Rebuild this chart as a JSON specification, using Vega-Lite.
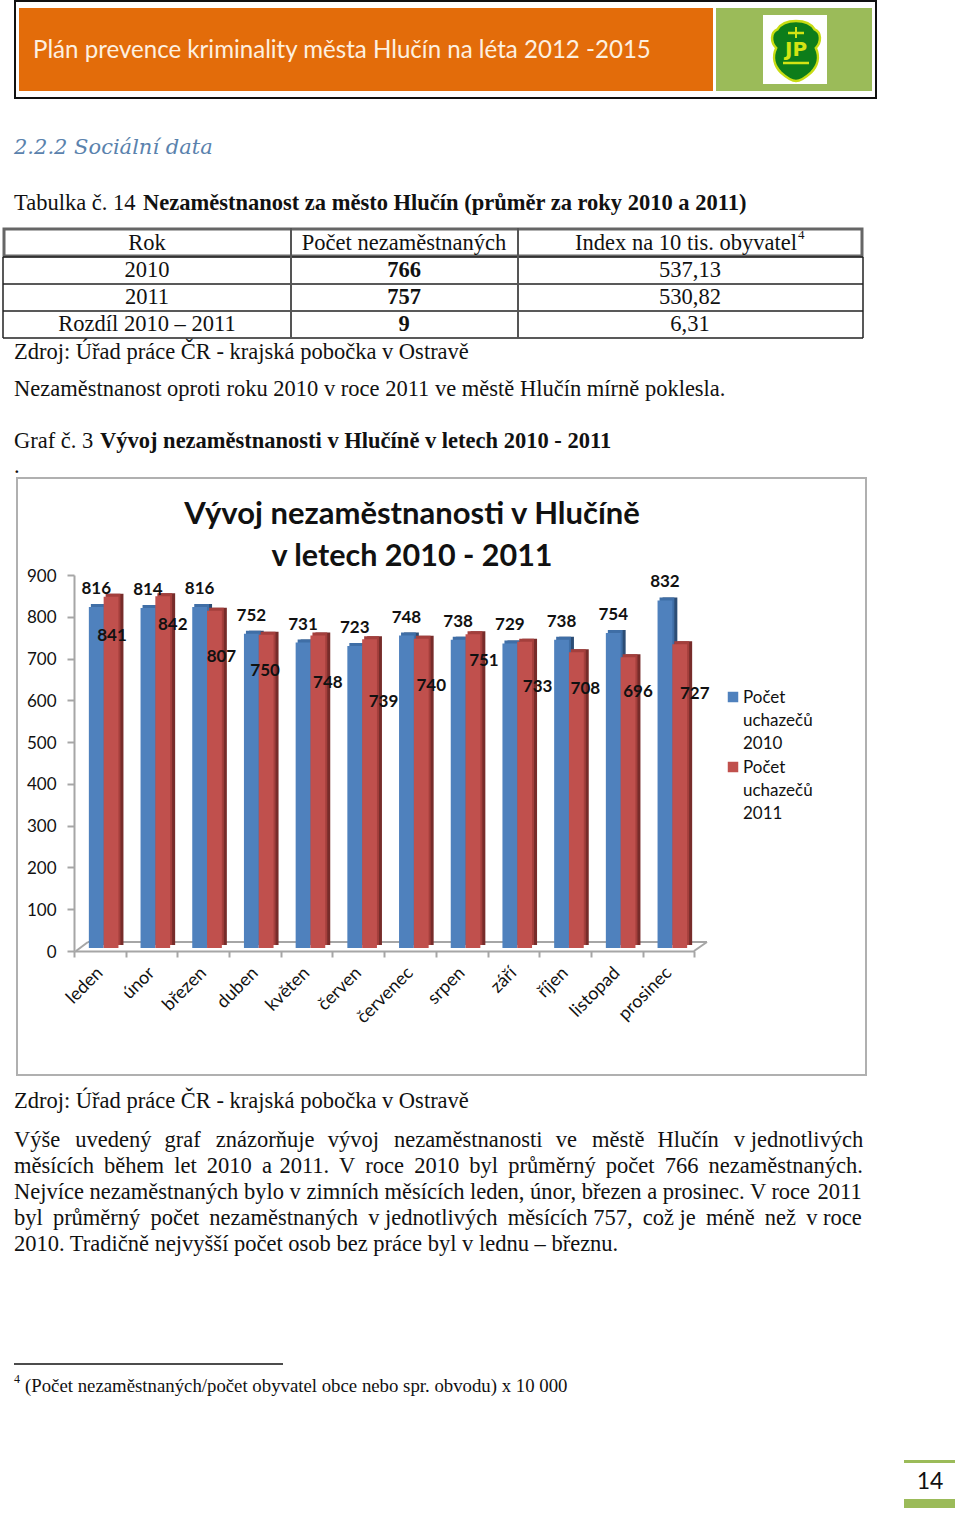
{"$schema":"https://vega.github.io/schema/vega-lite/v6.json","width":960,"height":1513,"padding":0,"autosize":{"type":"none"},"background":"white","config":{"view":{"stroke":null},"axis":{"grid":false},"text":{"font":"Liberation Serif","fontSize":22.5,"color":"#111","baseline":"middle","align":"left"}},
"datasets":{"bars":[
{"month":"leden","series":"Počet uchazečů 2010","value":816},{"month":"únor","series":"Počet uchazečů 2010","value":814},{"month":"březen","series":"Počet uchazečů 2010","value":816},{"month":"duben","series":"Počet uchazečů 2010","value":752},{"month":"květen","series":"Počet uchazečů 2010","value":731},{"month":"červen","series":"Počet uchazečů 2010","value":723},{"month":"červenec","series":"Počet uchazečů 2010","value":748},{"month":"srpen","series":"Počet uchazečů 2010","value":738},{"month":"září","series":"Počet uchazečů 2010","value":729},{"month":"říjen","series":"Počet uchazečů 2010","value":738},{"month":"listopad","series":"Počet uchazečů 2010","value":754},{"month":"prosinec","series":"Počet uchazečů 2010","value":832},
{"month":"leden","series":"Počet uchazečů 2011","value":841},{"month":"únor","series":"Počet uchazečů 2011","value":842},{"month":"březen","series":"Počet uchazečů 2011","value":807},{"month":"duben","series":"Počet uchazečů 2011","value":750},{"month":"květen","series":"Počet uchazečů 2011","value":748},{"month":"červen","series":"Počet uchazečů 2011","value":739},{"month":"červenec","series":"Počet uchazečů 2011","value":740},{"month":"srpen","series":"Počet uchazečů 2011","value":751},{"month":"září","series":"Počet uchazečů 2011","value":733},{"month":"říjen","series":"Počet uchazečů 2011","value":708},{"month":"listopad","series":"Počet uchazečů 2011","value":696},{"month":"prosinec","series":"Počet uchazečů 2011","value":727}],
"legendSymbols":[{"series":"Počet uchazečů 2010"},{"series":"Počet uchazečů 2011"}],
"legendLines":[{"line":"a","t":"Počet"},{"line":"b","t":"uchazečů"},{"line":"c","t":"2010"},{"line":"d","t":"Počet"},{"line":"e","t":"uchazečů"},{"line":"f","t":"2011"}],
"table":[{"row":"h","a":"Rok","b":"Počet nezaměstnaných","c":"Index na 10 tis. obyvatel"},{"row":"r1","a":"2010","b":"766","c":"537,13"},{"row":"r2","a":"2011","b":"757","c":"530,82"},{"row":"r3","a":"Rozdíl 2010 – 2011","b":"9","c":"6,31"}],
"body":[{"line":"l1","t":"Výše\u00a0\u200a\u200a uvedený\u00a0\u200a graf\u00a0\u200a\u200a znázorňuje\u00a0\u200a vývoj\u00a0\u200a\u200a nezaměstnanosti\u00a0\u200a ve\u00a0\u200a\u200a městě\u00a0\u200a Hlučín\u00a0\u200a\u200a v jednotlivých"},{"line":"l2","t":"měsících\u2009 během\u2009 let\u2009 2010\u2009 a\u200a 2011.\u2009 V\u2009 roce\u2009 2010\u2009 byl\u2009 průměrný\u2009 počet\u2009 766\u2009 nezaměstnaných."},{"line":"l3","t":"Nejvíce nezaměstnaných bylo v zimních měsících leden, únor, březen a prosinec. V roce\u200a 2011"},{"line":"l4","t":"byl\u2009 průměrný\u2009 počet\u2009 nezaměstnaných\u2009 v jednotlivých\u2009 měsících 757,\u2009 což je\u2009 méně\u2009 než\u2009 v roce"},{"line":"l5","t":"2010. Tradičně nejvyšší počet osob bez práce byl v lednu – březnu."}]},
"resolve":{"scale":{"x":"independent","y":"independent"},"axis":{"x":"independent","y":"independent"}},
"layer":[
{"data":{"values":[{}]},"mark":{"type":"rect","fill":"white","stroke":"#111","strokeWidth":2},"encoding":{"x":{"value":15},"x2":{"value":876},"y":{"value":1},"y2":{"value":98}}},
{"data":{"values":[{}]},"mark":{"type":"rect","fill":"#e36c0a"},"encoding":{"x":{"value":19},"x2":{"value":713},"y":{"value":8},"y2":{"value":91}}},
{"data":{"values":[{}]},"mark":{"type":"rect","fill":"#9bbb59"},"encoding":{"x":{"value":716},"x2":{"value":872},"y":{"value":8},"y2":{"value":91}}},
{"data":{"values":[{}]},"mark":{"type":"rect","fill":"white"},"encoding":{"x":{"value":763},"x2":{"value":827},"y":{"value":15},"y2":{"value":84}}},
{"data":{"values":[{}]},"mark":{"type":"point","filled":true,"fill":"#0d7d1a","stroke":"#c8dc14","strokeWidth":2.5,"opacity":1,"size":3600,"shape":"M0,-1 C.25,-1 .5,-.92 .62,-.72 C.85,-.62 .85,-.3 .66,-.1 C.8,.2 .72,.5 .5,.72 C.3,.9 .12,1 0,1 C-.12,1 -.3,.9 -.5,.72 C-.72,.5 -.8,.2 -.66,-.1 C-.85,-.3 -.85,-.62 -.62,-.72 C-.5,-.92 -.25,-1 0,-1 Z"},"encoding":{"x":{"value":796},"y":{"value":51}}},
{"data":{"values":[{"t":"JP"}]},"mark":{"type":"text","font":"DejaVu Sans","fontWeight":"bold","fontSize":20,"align":"center","color":"#d4e414","x":796,"y":50},"encoding":{"text":{"field":"t"}}},
{"data":{"values":[{}]},"mark":{"type":"rule","color":"#d4e414","strokeWidth":2.5},"encoding":{"x":{"value":783},"x2":{"value":809},"y":{"value":63}}},
{"data":{"values":[{}]},"mark":{"type":"rule","color":"#d4e414","strokeWidth":2.5},"encoding":{"x":{"value":788},"x2":{"value":804},"y":{"value":33}}},
{"data":{"values":[{}]},"mark":{"type":"rule","color":"#d4e414","strokeWidth":2},"encoding":{"x":{"value":796},"y":{"value":27},"y2":{"value":38}}},
{"data":{"values":[{"t":"Plán prevence kriminality města Hlučín na léta 2012 -2015"}]},"mark":{"type":"text","font":"Lato","fontSize":24.1,"color":"#fdf0e0","x":33,"y":51},"encoding":{"text":{"field":"t"}}},
{"data":{"values":[{"t":"2.2.2   Sociální data"}]},"mark":{"type":"text","font":"DejaVu Serif","fontStyle":"italic","fontSize":21,"color":"#5a82ad","x":14,"y":148},"encoding":{"text":{"field":"t"}}},
{"data":{"values":[{"t":"Tabulka č. 14 "}]},"mark":{"type":"text","x":14,"y":203},"encoding":{"text":{"field":"t"}}},
{"data":{"values":[{"t":"Nezaměstnanost za město Hlučín (průměr za roky 2010 a 2011)"}]},"mark":{"type":"text","fontWeight":"bold","x":143,"y":203},"encoding":{"text":{"field":"t"}}},
{"data":{"values":[{}]},"mark":{"type":"rect","fill":"white","stroke":"#666","strokeWidth":3},"encoding":{"x":{"value":4},"x2":{"value":862},"y":{"value":229},"y2":{"value":256}}},
{"data":{"values":[{"r":"a"},{"r":"b"},{"r":"c"},{"r":"d"}]},"mark":{"type":"rule","color":"#222","strokeWidth":1.5},"encoding":{"x":{"value":3},"x2":{"value":863},"y":{"field":"r","type":"nominal","scale":{"type":"point","padding":0,"domain":["a","b","c","d"],"range":[257,338]},"axis":null}}},
{"data":{"values":[{}]},"mark":{"type":"rule","color":"#222","strokeWidth":1.5},"encoding":{"x":{"value":3},"y":{"value":257},"y2":{"value":338}}},
{"data":{"values":[{}]},"mark":{"type":"rule","color":"#222","strokeWidth":1.5},"encoding":{"x":{"value":863},"y":{"value":257},"y2":{"value":338}}},
{"data":{"values":[{}]},"mark":{"type":"rule","color":"#555","strokeWidth":2},"encoding":{"x":{"value":291},"y":{"value":228},"y2":{"value":338}}},
{"data":{"values":[{}]},"mark":{"type":"rule","color":"#555","strokeWidth":2},"encoding":{"x":{"value":518},"y":{"value":228},"y2":{"value":338}}},
{"data":{"name":"table"},"mark":{"type":"text","align":"center","x":147},"encoding":{"text":{"field":"a"},"y":{"field":"row","type":"nominal","scale":{"type":"point","padding":0,"domain":["h","r1","r2","r3"],"range":[243,324]},"axis":null}}},
{"data":{"name":"table"},"transform":[{"filter":"datum.row=='h'"}],"mark":{"type":"text","align":"center","x":404},"encoding":{"text":{"field":"b"},"y":{"field":"row","type":"nominal","scale":{"type":"point","padding":0,"domain":["h","r1","r2","r3"],"range":[243,324]},"axis":null}}},
{"data":{"name":"table"},"transform":[{"filter":"datum.row!='h'"}],"mark":{"type":"text","align":"center","fontWeight":"bold","x":404},"encoding":{"text":{"field":"b"},"y":{"field":"row","type":"nominal","scale":{"type":"point","padding":0,"domain":["h","r1","r2","r3"],"range":[243,324]},"axis":null}}},
{"data":{"name":"table"},"transform":[{"filter":"datum.row=='h'"}],"mark":{"type":"text","align":"center","x":686},"encoding":{"text":{"field":"c"},"y":{"field":"row","type":"nominal","scale":{"type":"point","padding":0,"domain":["h","r1","r2","r3"],"range":[243,324]},"axis":null}}},
{"data":{"name":"table"},"transform":[{"filter":"datum.row!='h'"}],"mark":{"type":"text","align":"center","x":690},"encoding":{"text":{"field":"c"},"y":{"field":"row","type":"nominal","scale":{"type":"point","padding":0,"domain":["h","r1","r2","r3"],"range":[243,324]},"axis":null}}},
{"data":{"values":[{"t":"4"}]},"mark":{"type":"text","fontSize":13,"x":798,"y":235},"encoding":{"text":{"field":"t"}}},
{"data":{"values":[{"t":"Zdroj: Úřad práce ČR - krajská pobočka v Ostravě"}]},"mark":{"type":"text","x":14,"y":352},"encoding":{"text":{"field":"t"}}},
{"data":{"values":[{"t":"Nezaměstnanost oproti roku 2010 v roce 2011 ve městě Hlučín mírně poklesla."}]},"mark":{"type":"text","x":14,"y":389},"encoding":{"text":{"field":"t"}}},
{"data":{"values":[{"t":"Graf č. 3 "}]},"mark":{"type":"text","x":14,"y":441},"encoding":{"text":{"field":"t"}}},
{"data":{"values":[{"t":"Vývoj nezaměstnanosti v Hlučíně v letech 2010 - 2011"}]},"mark":{"type":"text","fontWeight":"bold","x":100,"y":441},"encoding":{"text":{"field":"t"}}},
{"data":{"values":[{"t":"."}]},"mark":{"type":"text","x":14,"y":466},"encoding":{"text":{"field":"t"}}},
{"data":{"values":[{}]},"mark":{"type":"rect","fill":"white","stroke":"#b0b0b0","strokeWidth":2},"encoding":{"x":{"value":17},"x2":{"value":866},"y":{"value":478},"y2":{"value":1075}}},
{"data":{"values":[{"t":"Vývoj nezaměstnanosti v Hlučíně"}]},"mark":{"type":"text","font":"Lato","fontWeight":"bold","fontSize":31,"align":"center","x":412,"y":515},"encoding":{"text":{"field":"t"}}},
{"data":{"values":[{"t":"v letech 2010 - 2011"}]},"mark":{"type":"text","font":"Lato","fontWeight":"bold","fontSize":30.5,"align":"center","x":412,"y":557},"encoding":{"text":{"field":"t"}}},
{"data":{"values":[{}]},"mark":{"type":"rule","color":"#a6a6a6","strokeWidth":2},"encoding":{"x":{"value":88},"x2":{"value":707},"y":{"value":942}}},
{"data":{"values":[{}]},"mark":{"type":"rule","color":"#a6a6a6","strokeWidth":2},"encoding":{"x":{"value":76},"x2":{"value":88},"y":{"value":951},"y2":{"value":942}}},
{"data":{"values":[{}]},"mark":{"type":"rule","color":"#a6a6a6","strokeWidth":2},"encoding":{"x":{"value":694},"x2":{"value":707},"y":{"value":951},"y2":{"value":942}}},
{"data":{"name":"bars"},"mark":{"type":"point","opacity":0},"encoding":{
"x":{"field":"month","type":"nominal","scale":{"type":"band","domain":["leden","únor","březen","duben","květen","červen","červenec","srpen","září","říjen","listopad","prosinec"],"range":[74,694.4],"padding":0},"axis":{"orient":"bottom","offset":-562,"zindex":1,"title":null,"tickBand":"extent","tickSize":6,"tickColor":"#a6a6a6","tickWidth":2,"domainColor":"#a6a6a6","domainWidth":2,"labelAngle":-45,"labelAlign":"right","labelBaseline":"middle","labelFont":"Lato","labelFontSize":18,"labelColor":"#111","labelPadding":13,"labelOverlap":false}},
"y":{"field":"value","type":"quantitative","scale":{"domain":[0,900],"range":[951,575],"nice":false},"axis":{"orient":"left","offset":-74,"zindex":1,"title":null,"values":[0,100,200,300,400,500,600,700,800,900],"tickSize":7,"tickColor":"#a6a6a6","tickWidth":2,"domainColor":"#a6a6a6","domainWidth":2,"labelFont":"Lato","labelFontSize":17,"labelColor":"#111","labelPadding":11,"labelOffset":1}}}},
{"data":{"name":"bars"},"transform":[{"filter":"datum.series=='Počet uchazečů 2010'"}],"mark":{"type":"bar","color":"#2c4d75"},"encoding":{"x":{"field":"month","type":"nominal","scale":{"type":"band","domain":["leden","únor","březen","duben","květen","červen","červenec","srpen","září","říjen","listopad","prosinec"],"range":[75.4,695.8],"paddingInner":0.7137,"paddingOuter":0.35685},"axis":null},"y":{"field":"value","type":"quantitative","scale":{"domain":[0,900],"range":[945,569],"nice":false},"axis":null}}},
{"data":{"name":"bars"},"transform":[{"filter":"datum.series=='Počet uchazečů 2010'"}],"mark":{"type":"bar","color":"#3f6ea6"},"encoding":{"x":{"field":"month","type":"nominal","scale":{"type":"band","domain":["leden","únor","březen","duben","květen","červen","červenec","srpen","září","říjen","listopad","prosinec"],"range":[72.4,692.8],"paddingInner":0.7137,"paddingOuter":0.35685},"axis":null},"y":{"field":"value","type":"quantitative","scale":{"domain":[0,900],"range":[945,569],"nice":false},"axis":null}}},
{"data":{"name":"bars"},"transform":[{"filter":"datum.series=='Počet uchazečů 2010'"}],"mark":{"type":"bar"},"encoding":{"x":{"field":"month","type":"nominal","scale":{"type":"band","domain":["leden","únor","březen","duben","květen","červen","červenec","srpen","září","říjen","listopad","prosinec"],"range":[70.4,690.8],"paddingInner":0.7137,"paddingOuter":0.35685},"axis":null},"y":{"field":"value","type":"quantitative","scale":{"domain":[0,900],"range":[948,572],"nice":false},"axis":null},"color":{"field":"series","type":"nominal","scale":{"domain":["Počet uchazečů 2010","Počet uchazečů 2011"],"range":["#4f81bd","#c0504d"]},"legend":null}}},
{"data":{"name":"bars"},"transform":[{"filter":"datum.series=='Počet uchazečů 2011'"}],"mark":{"type":"bar","color":"#772c2a"},"encoding":{"x":{"field":"month","type":"nominal","scale":{"type":"band","domain":["leden","únor","březen","duben","květen","červen","červenec","srpen","září","říjen","listopad","prosinec"],"range":[90.2,710.6],"paddingInner":0.7137,"paddingOuter":0.35685},"axis":null},"y":{"field":"value","type":"quantitative","scale":{"domain":[0,900],"range":[945,569],"nice":false},"axis":null}}},
{"data":{"name":"bars"},"transform":[{"filter":"datum.series=='Počet uchazečů 2011'"}],"mark":{"type":"bar","color":"#a43f3c"},"encoding":{"x":{"field":"month","type":"nominal","scale":{"type":"band","domain":["leden","únor","březen","duben","květen","červen","červenec","srpen","září","říjen","listopad","prosinec"],"range":[87.2,707.6],"paddingInner":0.7137,"paddingOuter":0.35685},"axis":null},"y":{"field":"value","type":"quantitative","scale":{"domain":[0,900],"range":[945,569],"nice":false},"axis":null}}},
{"data":{"name":"bars"},"transform":[{"filter":"datum.series=='Počet uchazečů 2011'"}],"mark":{"type":"bar"},"encoding":{"x":{"field":"month","type":"nominal","scale":{"type":"band","domain":["leden","únor","březen","duben","květen","červen","červenec","srpen","září","říjen","listopad","prosinec"],"range":[85.2,705.6],"paddingInner":0.7137,"paddingOuter":0.35685},"axis":null},"y":{"field":"value","type":"quantitative","scale":{"domain":[0,900],"range":[948,572],"nice":false},"axis":null},"color":{"field":"series","type":"nominal","legend":null}}},
{"data":{"name":"bars"},"transform":[{"filter":"datum.series=='Počet uchazečů 2010'"}],"mark":{"type":"text","font":"Lato","fontWeight":"bold","fontSize":17,"align":"center","dy":-18},"encoding":{"text":{"field":"value"},"x":{"field":"month","type":"nominal","scale":{"type":"band","domain":["leden","únor","březen","duben","květen","červen","červenec","srpen","září","říjen","listopad","prosinec"],"range":[70.4,690.8],"paddingInner":0.7137,"paddingOuter":0.35685},"axis":null},"y":{"field":"value","type":"quantitative","scale":{"domain":[0,900],"range":[948,572],"nice":false},"axis":null}}},
{"data":{"name":"bars"},"transform":[{"filter":"datum.series=='Počet uchazečů 2011'"}],"encoding":{"text":{"field":"value"},"x":{"field":"month","type":"nominal","scale":{"type":"band","domain":["leden","únor","březen","duben","květen","červen","červenec","srpen","září","říjen","listopad","prosinec"],"range":[85.2,705.6],"paddingInner":0.7137,"paddingOuter":0.35685},"axis":null},"y":{"field":"value","type":"quantitative","scale":{"domain":[0,900],"range":[948,572],"nice":false},"axis":null}},
"layer":[
{"transform":[{"filter":"datum.month=='leden'"}],"mark":{"type":"text","font":"Lato","fontWeight":"bold","fontSize":17,"align":"center","dx":1,"dy":39.5}},
{"transform":[{"filter":"datum.month=='únor'"}],"mark":{"type":"text","font":"Lato","fontWeight":"bold","fontSize":17,"align":"center","dx":10,"dy":29}},
{"transform":[{"filter":"datum.month=='březen'"}],"mark":{"type":"text","font":"Lato","fontWeight":"bold","fontSize":17,"align":"center","dx":7,"dy":46}},
{"transform":[{"filter":"datum.month=='duben'"}],"mark":{"type":"text","font":"Lato","fontWeight":"bold","fontSize":17,"align":"center","dx":-1,"dy":36.5}},
{"transform":[{"filter":"datum.month=='květen'"}],"mark":{"type":"text","font":"Lato","fontWeight":"bold","fontSize":17,"align":"center","dx":10,"dy":47.7}},
{"transform":[{"filter":"datum.month=='červen'"}],"mark":{"type":"text","font":"Lato","fontWeight":"bold","fontSize":17,"align":"center","dx":14,"dy":63}},
{"transform":[{"filter":"datum.month=='červenec'"}],"mark":{"type":"text","font":"Lato","fontWeight":"bold","fontSize":17,"align":"center","dx":10,"dy":47.3}},
{"transform":[{"filter":"datum.month=='srpen'"}],"mark":{"type":"text","font":"Lato","fontWeight":"bold","fontSize":17,"align":"center","dx":11,"dy":27}},
{"transform":[{"filter":"datum.month=='září'"}],"mark":{"type":"text","font":"Lato","fontWeight":"bold","fontSize":17,"align":"center","dx":13,"dy":45.4}},
{"transform":[{"filter":"datum.month=='říjen'"}],"mark":{"type":"text","font":"Lato","fontWeight":"bold","fontSize":17,"align":"center","dx":9,"dy":37}},
{"transform":[{"filter":"datum.month=='listopad'"}],"mark":{"type":"text","font":"Lato","fontWeight":"bold","fontSize":17,"align":"center","dx":10,"dy":35}},
{"transform":[{"filter":"datum.month=='prosinec'"}],"mark":{"type":"text","font":"Lato","fontWeight":"bold","fontSize":17,"align":"center","dx":15,"dy":50}}
]},
{"data":{"name":"legendSymbols"},"mark":{"type":"square","size":110,"opacity":1,"x":733},"encoding":{"color":{"field":"series","type":"nominal","legend":null},"y":{"field":"series","type":"nominal","scale":{"type":"point","padding":0,"domain":["Počet uchazečů 2010","Počet uchazečů 2011"],"range":[697,767]},"axis":null}}},
{"data":{"name":"legendLines"},"mark":{"type":"text","font":"Lato","fontSize":17,"x":743},"encoding":{"text":{"field":"t"},"y":{"field":"line","type":"nominal","scale":{"type":"point","padding":0,"domain":["a","b","c","d","e","f"],"range":[698,814]},"axis":null}}},
{"data":{"values":[{"t":"Zdroj: Úřad práce ČR - krajská pobočka v Ostravě"}]},"mark":{"type":"text","x":14,"y":1101},"encoding":{"text":{"field":"t"}}},
{"data":{"name":"body"},"mark":{"type":"text","x":14},"encoding":{"text":{"field":"t"},"y":{"field":"line","type":"nominal","scale":{"type":"point","padding":0,"domain":["l1","l2","l3","l4","l5"],"range":[1140,1244]},"axis":null}}},
{"data":{"values":[{}]},"mark":{"type":"rule","color":"#111","strokeWidth":1.5},"encoding":{"x":{"value":14},"x2":{"value":283},"y":{"value":1364}}},
{"data":{"values":[{"t":"4"}]},"mark":{"type":"text","fontSize":12,"x":14,"y":1379},"encoding":{"text":{"field":"t"}}},
{"data":{"values":[{"t":"(Počet nezaměstnaných/počet obyvatel obce nebo spr. obvodu) x 10 000"}]},"mark":{"type":"text","fontSize":18.8,"x":25,"y":1386},"encoding":{"text":{"field":"t"}}},
{"data":{"values":[{}]},"mark":{"type":"rect","fill":"#9bbb59"},"encoding":{"x":{"value":904},"x2":{"value":955},"y":{"value":1460},"y2":{"value":1463}}},
{"data":{"values":[{}]},"mark":{"type":"rect","fill":"#9bbb59"},"encoding":{"x":{"value":904},"x2":{"value":955},"y":{"value":1499},"y2":{"value":1508}}},
{"data":{"values":[{"t":"14"}]},"mark":{"type":"text","font":"Lato","fontSize":23,"align":"center","x":930,"y":1482},"encoding":{"text":{"field":"t"}}}
]}
